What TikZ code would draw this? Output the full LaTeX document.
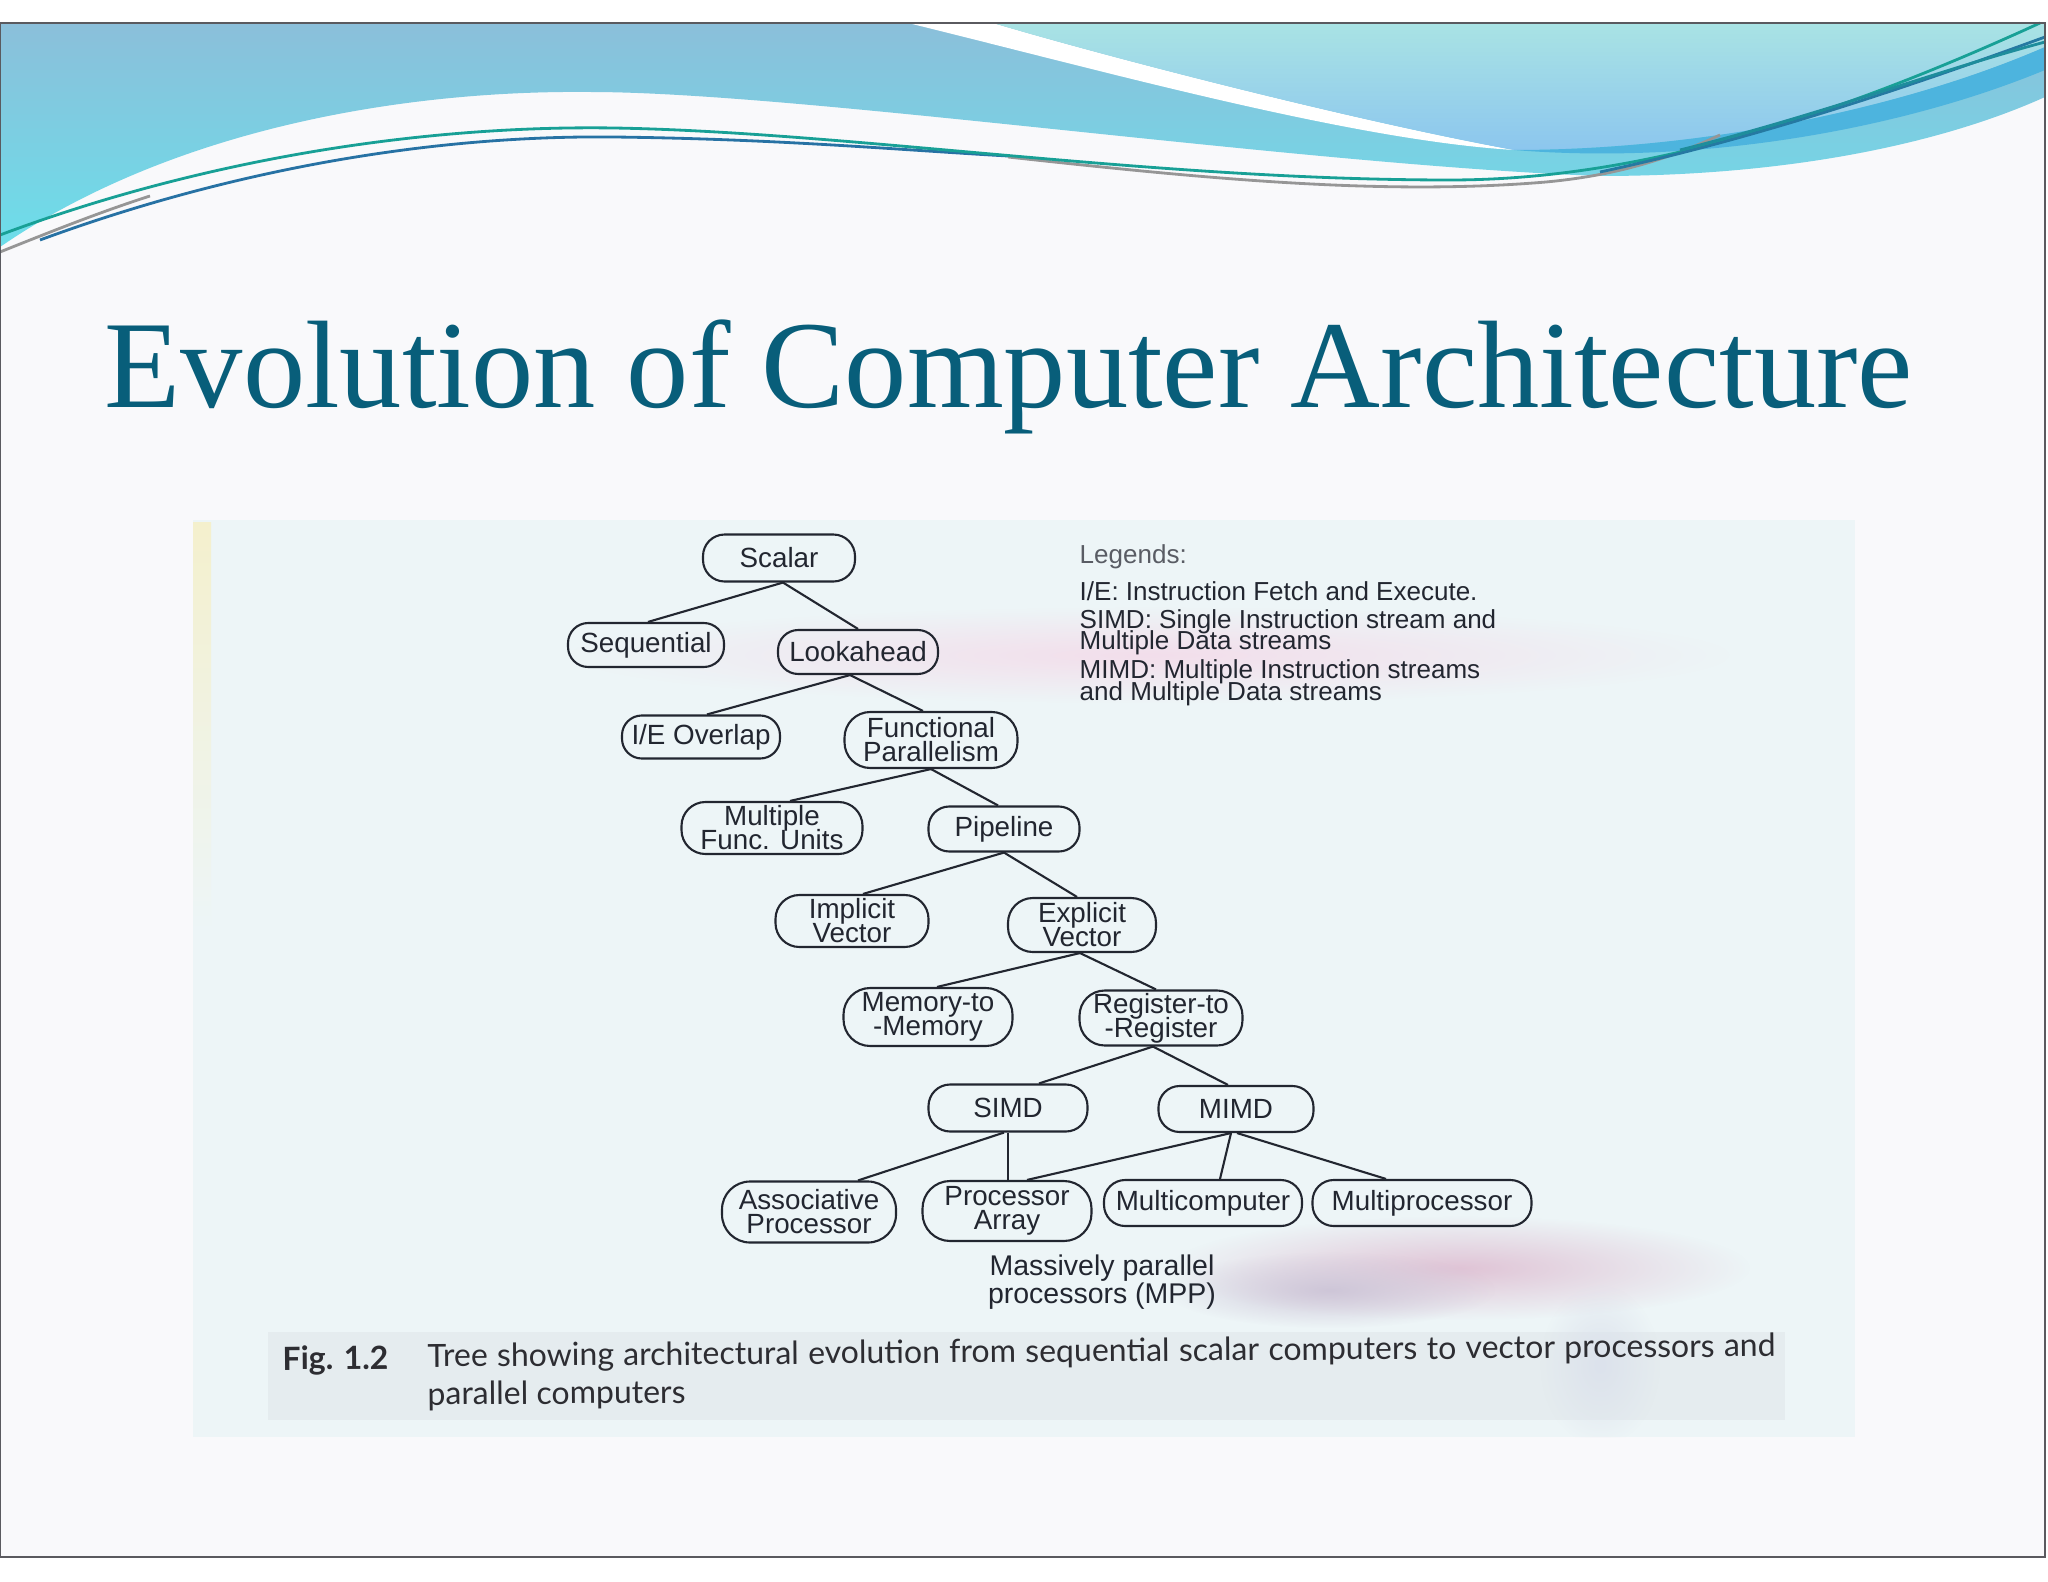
\documentclass[tikz,border=0pt]{standalone}
\usepackage{fontspec}
\setmainfont{Liberation Serif}
\newfontfamily\arialf{Liberation Sans}
\newfontfamily\capf{Lato}
\usetikzlibrary{calc,fadings}
\newlength\upx
\setlength\upx{0.01cm}
\lineskiplimit=-30pt
\tikzfading[name=softspot, inner color=transparent!0, outer color=transparent!100]
\definecolor{slidebg}{RGB}{249,249,251}
\definecolor{photobg}{RGB}{237,245,247}
\definecolor{capband}{RGB}{229,236,239}
\definecolor{titlec}{RGB}{8,94,122}
\definecolor{inkc}{RGB}{34,38,48}
\definecolor{capc}{RGB}{45,45,50}
\definecolor{bandtop}{RGB}{139,191,218}
\definecolor{bandbot}{RGB}{108,222,234}
\definecolor{lighttop}{RGB}{169,227,228}
\definecolor{lightbot}{RGB}{140,198,238}
\definecolor{darkband}{RGB}{77,180,222}
\definecolor{tealline}{RGB}{24,160,150}
\definecolor{blueline}{RGB}{45,95,170}
\definecolor{grayline}{RGB}{150,150,150}
\definecolor{pinkc}{RGB}{243,222,235}
\definecolor{smudge}{RGB}{224,196,214}
\definecolor{smudgeg}{RGB}{206,198,216}
\definecolor{smudgeb}{RGB}{220,226,236}
\definecolor{cream}{RGB}{244,240,205}
\definecolor{framec}{RGB}{90,90,95}
\tikzset{
  tn/.style 2 args={draw=inkc, line width=0.6pt, inner sep=0pt, align=center,
    font=\arialf\fontsize{7.9}{6.8}\selectfont, text=inkc,
    minimum width=#1\upx, minimum height=#2\upx, rounded corners={#2*0.46*\upx}},
  edge/.style={draw=inkc, line width=0.6pt},
  leg/.style={anchor=base west, inner sep=0pt, font=\arialf\fontsize{7.4}{8}\selectfont, text=inkc},
  mpptext/.style={anchor=base, inner sep=0pt, font=\arialf\fontsize{8.1}{8}\selectfont, text=inkc},
  captext/.style={anchor=base west, inner sep=0pt, font=\capf\fontsize{9.1}{10}\selectfont, text=capc, rotate=0.45},
  hline/.style={line width=0.8pt},
  spot/.style={path fading=softspot}
}
\begin{document}
\begin{tikzpicture}[x=0.01cm, y=-0.01cm]
\useasboundingbox (0,0) rectangle (2048,1582);
\fill[white] (0,0) rectangle (2048,1582);
\fill[slidebg] (0,23) rectangle (2045,1557);

% header waves
\shade[top color=bandtop, bottom color=bandbot] (0,23) -- (2045,23) -- (2045,97)
  .. controls (1950,140) and (1800,176) .. (1600,176)
  .. controls (1300,165) and (800,92) .. (590,92)
  .. controls (400,90) and (170,130) .. (0,247) -- cycle;
\fill[white] (908,23) -- (993,23) .. controls (1100,55) and (1350,120) .. (1514,150)
  .. controls (1350,140) and (1100,70) .. (908,23) -- cycle;
\shade[top color=lighttop, bottom color=lightbot] (993,23) -- (2045,23) -- (2045,47)
  .. controls (1900,110) and (1700,150) .. (1514,150)
  .. controls (1350,120) and (1100,55) .. (993,23) -- cycle;
\fill[darkband] (1514,150) .. controls (1700,150) and (1900,110) .. (2045,47)
  -- (2045,70) .. controls (1900,130) and (1700,165) .. (1514,150) -- cycle;
\draw[hline, grayline] (0,252) .. controls (50,232) and (100,212) .. (150,196);
\draw[hline, grayline] (1008,157) .. controls (1200,178) and (1380,196) .. (1546,182)
  .. controls (1620,175) and (1670,158) .. (1720,135);
\draw[hline, blueline!70!tealline] (40,240) .. controls (230,170) and (430,135) .. (614,137)
  .. controls (780,139) and (900,150) .. (1008,156);
\draw[hline, tealline] (0,235) .. controls (200,160) and (420,125) .. (614,128)
  .. controls (850,132) and (1150,180) .. (1450,180)
  .. controls (1650,180) and (1850,110) .. (2040,23);
\draw[hline, blueline!60!tealline] (1600,172) .. controls (1750,140) and (1900,90) .. (2045,37);
\draw[hline, tealline!70!blueline] (1680,150) .. controls (1820,115) and (1940,70) .. (2045,42);

% slide frame
\draw[framec, line width=0.5pt] (0,23) rectangle (2045,1557);

% title
\node[anchor=base west, inner sep=0pt, font=\fontsize{35.4}{40}\selectfont, text=titlec]
  (title) at (104,407) {Evolution of Computer Architecture};

% photo
\fill[photobg] (193,520) rectangle (1855,1437);
\shade[top color=cream, bottom color=photobg] (193,522) rectangle (211,930);
\fill[capband] (268,1332) rectangle (1785,1420);
\begin{scope}
\clip (193,520) rectangle (1855,1437);
\fill[pinkc, spot] (1150,655) ellipse (580 and 48);
\fill[smudge, spot] (1460,1268) ellipse (290 and 52);
\fill[smudgeg, spot] (1330,1290) ellipse (165 and 38);
\fill[smudgeb, spot] (1600,1365) ellipse (60 and 80);
\end{scope}

% tree nodes
\node[tn={152}{47}] (scalar) at (779,558) {Scalar};
\node[tn={156}{44}] (seq) at (646,645) {Sequential};
\node[tn={160}{44}] (look) at (858,652) {Lookahead};
\node[tn={158}{43}] (ieo) at (701,737) {I/E Overlap};
\node[tn={173}{56}] (func) at (931,740) {Functional\\Parallelism};
\node[tn={181}{52}] (mfu) at (772,828) {Multiple\\Func. Units};
\node[tn={151}{45}] (pipe) at (1004,829) {Pipeline};
\node[tn={153}{52}] (impl) at (852,921) {Implicit\\Vector};
\node[tn={148}{54}] (expl) at (1082,925) {Explicit\\Vector};
\node[tn={169}{58}] (m2m) at (928,1017) {Memory-to\\-Memory};
\node[tn={163}{55}] (r2r) at (1161,1018) {Register-to\\-Register};
\node[tn={159}{47}] (simd) at (1008,1108) {SIMD};
\node[tn={155}{46}] (mimd) at (1236,1109) {MIMD};
\node[tn={174}{61}] (assoc) at (809,1212) {Associative\\Processor};
\node[tn={169}{60}] (parr) at (1007,1211) {Processor\\Array};
\node[tn={198}{46}] (mcomp) at (1203,1203) {Multicomputer};
\node[tn={219}{46}] (mproc) at (1422,1203) {Multiprocessor};

% tree edges
\draw[edge] ([xshift=4\upx]scalar.south) -- ([xshift=2\upx]seq.north);
\draw[edge] ([xshift=4\upx]scalar.south) -- (look.north);
\draw[edge] ([xshift=-8\upx]look.south) -- ([xshift=6\upx]ieo.north);
\draw[edge] ([xshift=-8\upx]look.south) -- ([xshift=-8\upx]func.north);
\draw[edge] (func.south) -- ([xshift=18\upx]mfu.north);
\draw[edge] (func.south) -- ([xshift=-6\upx]pipe.north);
\draw[edge] (pipe.south) -- ([xshift=11\upx]impl.north);
\draw[edge] (pipe.south) -- ([xshift=-5\upx]expl.north);
\draw[edge] ([xshift=-2\upx]expl.south) -- ([xshift=9\upx]m2m.north);
\draw[edge] ([xshift=-2\upx]expl.south) -- ([xshift=-5\upx]r2r.north);
\draw[edge] ([xshift=-8\upx]r2r.south) -- ([xshift=31\upx]simd.north);
\draw[edge] ([xshift=-8\upx]r2r.south) -- ([xshift=-8\upx]mimd.north);
\draw[edge] ([xshift=-4\upx]simd.south) -- ([xshift=49\upx]assoc.north);
\draw[edge] (simd.south) -- (simd.south |- parr.north);
\draw[edge] ([xshift=-5\upx]mimd.south) -- ([xshift=20\upx]parr.north);
\draw[edge] ([xshift=-5\upx]mimd.south) -- ([xshift=17\upx]mcomp.north);
\draw[edge] ([xshift=1\upx]mimd.south) -- ([xshift=-36\upx]mproc.north);

% MPP label
\node[mpptext] (mpp1) at (1102,1275) {Massively parallel};
\node[mpptext] (mpp2) at (1102,1303) {processors (MPP)};

% legend
\node[leg, text=inkc!75] (lg0) at (1079,563) {Legends:};
\node[leg] (lg1) at (1079,600) {I/E: Instruction Fetch and Execute.};
\node[leg] (lg2) at (1079,628) {SIMD: Single Instruction stream and};
\node[leg] (lg3) at (1079,649) {Multiple Data streams};
\node[leg] (lg4) at (1079,678) {MIMD: Multiple Instruction streams};
\node[leg] (lg5) at (1079,700) {and Multiple Data streams};

% caption
\node[captext, font=\capf\bfseries\fontsize{9.1}{10}\selectfont] (fig) at (282,1370) {Fig. 1.2};
\node[captext] (cap1) at (427,1367) {\makebox[13.47cm][s]{Tree showing architectural evolution from sequential scalar computers to vector processors and}};
\node[captext] (cap2) at (427,1405) {parallel computers};
\end{tikzpicture}
\end{document}
